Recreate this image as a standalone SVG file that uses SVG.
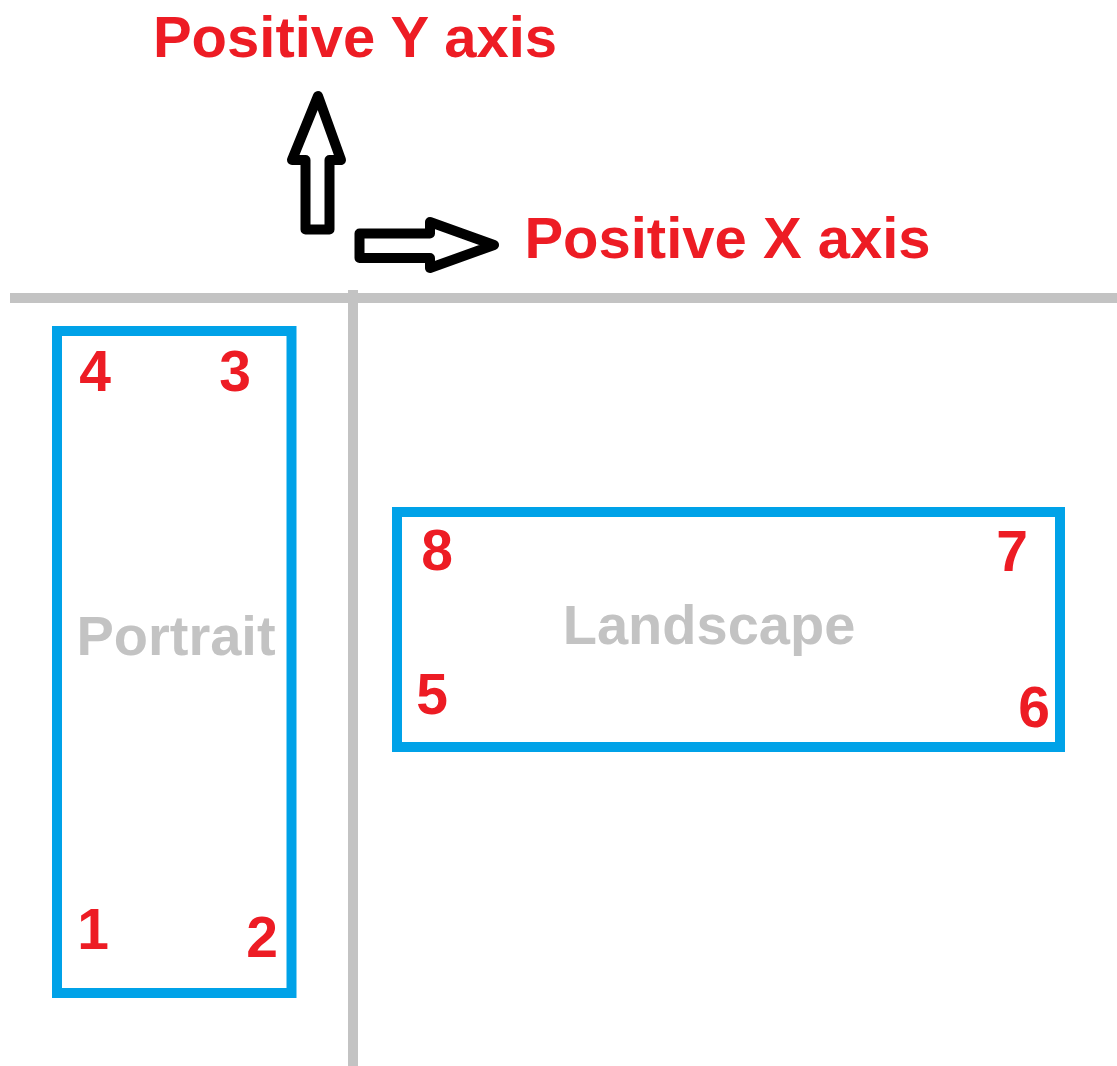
<svg xmlns="http://www.w3.org/2000/svg" width="1117" height="1066" viewBox="0 0 1117 1066">
<style>
.title{font-family:"Liberation Sans",Arial,sans-serif;font-weight:bold;font-size:58px;fill:#ed1c24;text-anchor:middle}
.num{font-family:"Liberation Sans",Arial,sans-serif;font-weight:bold;font-size:57px;fill:#ed1c24;text-anchor:middle}
.lbl{font-family:"Liberation Sans",Arial,sans-serif;font-weight:bold;font-size:56px;fill:#c3c3c3;text-anchor:middle}
.box{fill:none;stroke:#00a2e8;stroke-width:10}
.axis{stroke:#c3c3c3;stroke-width:10}
.arrow{fill:#fff;stroke:#000;stroke-width:10;stroke-linejoin:round}
</style>
<rect width="1117" height="1066" fill="#fff"/>
<g id="connectors">
<line class="axis" x1="10" y1="298" x2="1117" y2="298"/>
<line class="axis" x1="353" y1="290" x2="353" y2="1066"/>
<polygon class="arrow" points="318,96 341,160 329.5,160 329.5,229.5 305.5,229.5 305.5,160 292,160"/>
<polygon class="arrow" points="494,245 430,268 430,258 359.5,258 359.5,233.5 430,233.5 430,222"/>
</g>
<g id="label-y"><text class="title" x="355" y="57">Positive Y axis</text></g>
<g id="label-x"><text class="title" x="727.5" y="258">Positive X axis</text></g>
<g id="portrait">
<rect class="box" x="57" y="331" width="234.5" height="662"/>
<text class="lbl" x="176" y="655">Portrait</text>
<text class="num" x="95" y="391">4</text>
<text class="num" x="235" y="391">3</text>
<text class="num" x="93" y="949">1</text>
<text class="num" x="262" y="957">2</text>
</g>
<g id="landscape">
<rect class="box" x="397" y="512" width="663" height="235"/>
<text class="lbl" x="709" y="644">Landscape</text>
<text class="num" x="437" y="570">8</text>
<text class="num" x="1012" y="571">7</text>
<text class="num" x="432" y="714">5</text>
<text class="num" x="1034" y="727">6</text>
</g>
</svg>
